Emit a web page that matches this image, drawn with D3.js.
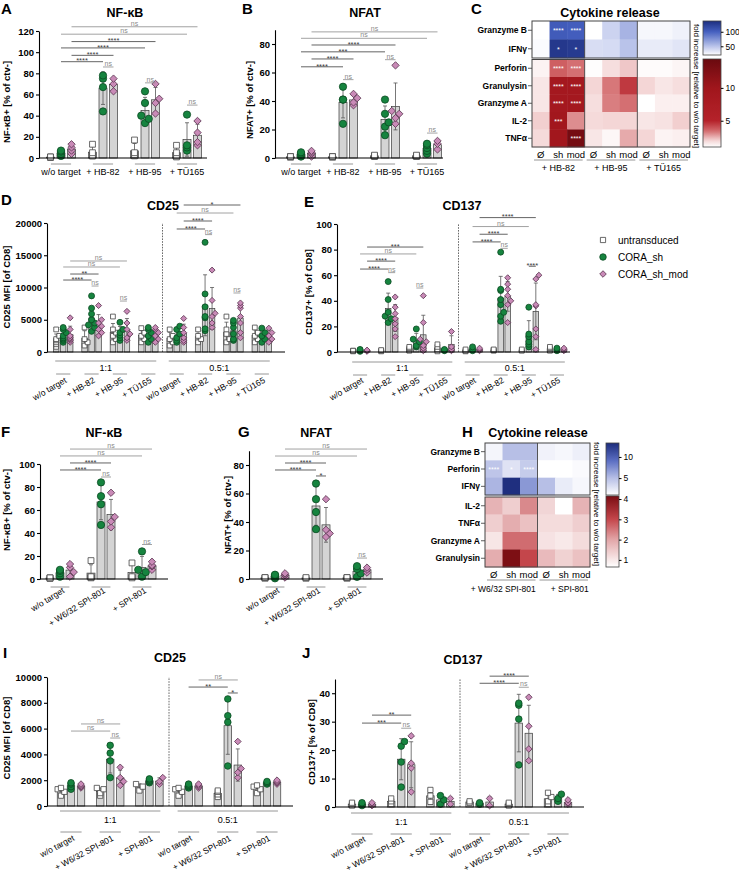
<!DOCTYPE html>
<html>
<head>
<meta charset="utf-8">
<script src="https://cdn.jsdelivr.net/npm/d3@7/dist/d3.min.js"></script>
<style>
  body { margin: 0; background: #fff; }
  svg { font-family: "Liberation Sans", Arial, Helvetica, sans-serif; }
</style>
</head>
<body>
<script>
// ---------- data ----------
var seriesNames = ["untransduced", "CORA_sh", "CORA_sh_mod"];
var ratios = ["1:1", "0.5:1"];

// A  NF-kB
var targetsA = ["w/o target", "+ HB-82", "+ HB-95", "+ TÜ165"];
var nfkbUnt = [[0.5, 1, 1], [2, 2, 5, 13], [2, 3, 5, 17], [1, 2, 5, 12]];
var nfkbSh = [[2, 4, 6, 7], [44, 67, 75, 78], [33, 37, 40, 52, 63], [7, 10, 12, 41]];
var nfkbMod = [[4, 7, 10, 13], [63, 70, 75], [42, 52, 56, 70], [12, 15, 24, 35]];

// B  NFAT
var nfatUnt = [[0.5, 1, 1], [0.5, 1, 1], [1, 1.5, 2], [1, 1.5, 2]];
var nfatSh = [[1, 2, 3, 4], [24, 41, 41, 50], [16, 22, 25, 31, 41], [3, 5, 7, 9, 10]];
var nfatMod = [[1, 3, 4, 5], [37, 39, 42, 45], [24, 28, 31, 33, 65], [6, 10, 12]];

// C  cytokine heatmap
var colsC = ["Ø", "sh", "mod", "Ø", "sh", "mod", "Ø", "sh", "mod"];
var colGroupsC = ["+ HB-82", "+ HB-95", "+ TÜ165"];
var cytoTopC = ["Granzyme B", "IFNγ"];
var cytoBotC = ["Perforin", "Granulysin", "Granzyme A", "IL-2", "TNFα"];
var foldTopC = [[1, 104, 102, 1, 42, 58, 24, 24, 27],
                [22, 130, 128, 37, 38, 50, 30, 30, 33]];
var foldBotC = [[1.3, 3.7, 3.4, 1.05, 1.8, 2.2, 1.1, 1.1, 1.25],
                [1.6, 9, 9, 2.0, 3.3, 4.5, 2.0, 1.6, 1.8],
                [1.6, 9, 9, 1.8, 3.2, 3.4, 1.0, 1.4, 1.4],
                [2.1, 9.5, 3.0, 1.9, 2.0, 2.0, 1.6, 1.7, 2.1],
                [1.9, 9.5, 13.5, 1.6, 1.2, 2.6, 2.0, 1.3, 1.4]];
var starsTopC = [["", "****", "****", "", "", "", "", "", ""],
                 ["", "*", "*", "", "", "", "", "", ""]];
var starsBotC = [["", "****", "****", "", "", "", "", "", ""],
                 ["", "****", "****", "", "", "", "", "", ""],
                 ["", "****", "****", "", "", "", "", "", ""],
                 ["", "***", "", "", "", "", "", "", ""],
                 ["", "", "****", "", "", "", "", "", ""]];

// D  CD25 (HB targets)
var targetsD = ["w/o target", "+ HB-82", "+ HB-95", "+ TÜ165", "w/o target", "+ HB-82", "+ HB-95", "+ TÜ165"];
var cd25Unt = [[800, 1200, 1500, 1800, 2000, 2500, 3500], [1000, 1500, 2000, 3800], [1500, 2000, 2500, 3000, 3500, 5500],
               [1500, 2000, 2500, 3000, 3700], [1000, 1500, 2000, 2500, 3500], [1500, 2000, 2500, 3500],
               [1500, 2000, 2800, 3500, 5500], [1500, 2000, 2500, 3000, 3800]];
var cd25Sh = [[1500, 1800, 2000, 2200, 2500, 3000, 3500, 3800], [3200, 3800, 4200, 4500, 5000, 5900, 6800, 8700],
              [1800, 2200, 2600, 3000, 3500, 4600], [1500, 2000, 2500, 3000, 3500, 3800],
              [1500, 1800, 2200, 2800, 3500, 4000], [3300, 3600, 5300, 5500, 7000, 9000, 17000],
              [1800, 2000, 2800, 3800, 4500, 4900], [1500, 2000, 2500, 3000, 3700]];
var cd25Mod = [[1500, 1800, 2000, 2200, 2500, 3500, 5300], [2500, 3000, 3500, 4000, 4500, 5000, 7200],
               [1800, 2200, 2800, 3500, 4500, 6300], [1500, 2000, 2500, 3000, 3500, 3800],
               [1500, 1800, 2200, 3000, 3800, 5200], [3800, 4500, 5500, 6000, 8000, 12700],
               [2200, 3000, 4500, 5500, 6800, 7200, 7600], [1500, 2000, 2500, 3000, 3700]];

// E  CD137 (HB targets)
var cd137Unt = [[0.5, 1, 1], [0.5, 1, 1.5], [1, 2, 3, 4], [0.5, 2, 4, 6], [0.5, 1, 2], [1, 1.5, 2], [1, 2], [1, 2, 3, 4]];
var cd137Sh = [[0.5, 1, 1.5, 2], [23, 26, 28, 31, 41, 55], [4, 5, 8, 10, 18], [1, 1.5, 2], [1, 2, 4],
               [24, 28, 31, 37, 41, 48, 49, 78], [4, 6, 8, 12, 14, 35], [1, 2, 3]];
var cd137Mod = [[0.5, 1, 1.5], [12, 18, 22, 26, 30, 35, 43], [1, 3, 5, 8, 10, 23, 44], [1, 2, 4, 16], [1, 2, 3],
                [23, 37, 40, 44, 49, 53, 58], [2, 12, 18, 36, 37, 57, 60], [1, 2, 3]];

// F  NF-kB (SPI-801)
var targetsF = ["w/o target", "+ W6/32 SPI-801", "+ SPI-801"];
var nfkb2Unt = [[0.5, 1, 1], [1, 1.5, 2, 16], [1, 2, 14]];
var nfkb2Sh = [[2, 5, 7, 8], [47, 65, 72, 84], [2, 6, 8, 24]];
var nfkb2Mod = [[2, 6, 10, 13], [45, 50, 54, 75], [8, 11, 12, 15]];

// G  NFAT (SPI-801)
var nfat2Unt = [[0.5, 1, 1], [0.5, 1], [0.5, 1, 1]];
var nfat2Sh = [[0.5, 1.5, 2.5, 3], [35, 47, 56, 67], [1.5, 4, 7, 9]];
var nfat2Mod = [[1, 2.5, 3, 4], [29.5, 32, 34.5, 56], [4.5, 6.5, 8]];

// H  cytokine heatmap (SPI-801)
var colsH = ["Ø", "sh", "mod", "Ø", "sh", "mod"];
var colGroupsH = ["+ W6/32 SPI-801", "+ SPI-801"];
var cytoTopH = ["Granzyme B", "Perforin", "IFNγ"];
var cytoBotH = ["IL-2", "TNFα", "Granzyme A", "Granulysin"];
var foldTopH = [[1.6, 5, 5, 1.8, 1.5, 2.0],
                [4.6, 2.8, 4.2, 1.0, 1.0, 1.3],
                [5.5, 13.1, 7, 5, 2.2, 1.5]];
var foldBotH = [[1.8, 1.4, 2.3, 1.3, 0.65, 1.8],
                [1.4, 1.9, 1.6, 1.2, 1.2, 1.4],
                [1.05, 2.6, 2.6, 1.1, 1.0, 1.2],
                [1.9, 4.1, 3.0, 1.7, 1.35, 1.6]];
var starsTopH = [["", "", "", "", "", ""], ["****", "*", "****", "", "", ""], ["", "", "", "", "", ""]];
var starsBotH = [["", "", "", "", "", ""], ["", "", "", "", "", ""], ["", "", "", "", "", ""], ["", "", "", "", "", ""]];

// I  CD25 (SPI-801)
var targetsI = ["w/o target", "+ W6/32 SPI-801", "+ SPI-801", "w/o target", "+ W6/32 SPI-801", "+ SPI-801"];
var cd25bUnt = [[800, 1100, 1300, 1400], [800, 1000, 1300, 1400], [1200, 1500, 1700], [800, 1100, 1300, 1400],
                [700, 900, 1100, 1200], [1000, 1300, 1500, 1600]];
var cd25bSh = [[1300, 1500, 1700, 1800], [2200, 3500, 4100, 4700], [1800, 1900, 2000, 2100], [1400, 1500, 1600, 1700],
               [3100, 6500, 7000, 8300], [1700, 1800, 1900]];
var cd25bMod = [[1400, 1500, 1600, 1700], [1600, 1900, 2200, 3000], [1700, 1900, 2200], [1400, 1500, 1600, 1700],
                [2200, 2600, 2900, 5000], [1700, 1800, 1900, 2000]];

// J  CD137 (SPI-801)
var cd137bUnt = [[0.5, 1, 1.5], [1, 2, 3], [1.8, 4, 6], [1.5, 2], [0.5, 1, 1.5], [1, 2, 3.5, 5]];
var cd137bSh = [[0.5, 1, 1.5], [7, 15.8, 21.4, 23], [1, 2.5, 4], [1, 1.5], [14.8, 30.9, 35.8, 36.5], [2, 3, 4.5]];
var cd137bMod = [[0.5, 1, 1.5], [5.3, 13.7, 15.4, 25], [1, 3], [0.5, 3], [16.3, 20.4, 28.4, 38.6], [1, 1.5, 2.5]];

// ---------- drawing ----------
var FONT = '"Liberation Sans", Arial, Helvetica, sans-serif';
var green = "#16843f", pink = "#c98ab7";
var svg = d3.select("body").append("svg").attr("width", 739).attr("height", 876);
var defs = svg.append("defs");
var gradCount = 0;

var shapes = [d3.symbolSquare, d3.symbolCircle, d3.symbolSquare];
var symSize = [34, 42, 27];
var symFill = ["#fff", green, pink];
var symStroke = ["#444", "#0b4a22", "#5c3853"];
var symRot = [0, 0, 45];

function letter(t, x, y) {
  svg.append("text").attr("x", x).attr("y", y).attr("font-size", 15)
    .attr("font-weight", "bold").text(t);
}

function title(t, x, y) {
  svg.append("text").attr("x", x).attr("y", y).attr("text-anchor", "middle")
    .attr("font-size", 12.5).attr("font-weight", "bold").text(t);
}

function ylabel(t, x, y) {
  svg.append("text").attr("transform", "translate(" + x + "," + y + ") rotate(-90)")
    .attr("text-anchor", "middle").attr("dy", "0.35em")
    .attr("font-size", 9.5).attr("font-weight", "bold").text(t);
}

// spread overlapping points sideways a little, like a scatter column
function spread(vals, y, r) {
  var placed = [];
  vals.slice().sort(d3.ascending).forEach(function(v) {
    var py = y(v), chosen = 0;
    var cands = [0, r * 1.1, -r * 1.1];
    for (var i = 0; i < cands.length; i++) {
      var dx = cands[i];
      var ok = placed.every(function(q) { return Math.hypot(q.dx - dx, q.py - py) >= r * 1.5; });
      if (ok) { chosen = dx; break; }
    }
    placed.push({ v: v, py: py, dx: chosen });
  });
  return placed;
}

function barPanel(p, unt, sh, mod) {
  var series = [unt, sh, mod];
  var g = svg.append("g");
  var y = d3.scaleLinear().domain(p.domain).range([p.y0, p.yTop]);
  var x = d3.scaleBand().domain(d3.range(p.labels.length)).range(p.xRange);
  var bw = x.bandwidth();
  var sub = d3.scalePoint().domain([0, 1, 2]).range([-p.off, p.off]);
  var cx = function(gi, si) { return x(gi) + bw / 2 + sub(si); };
  var s = p.ms;

  if (p.divideAt) {
    g.append("line").attr("x1", x(p.divideAt)).attr("x2", x(p.divideAt))
      .attr("y1", y(0)).attr("y2", p.yTop)
      .attr("stroke", "#444").attr("stroke-width", 0.8).attr("stroke-dasharray", "1.6,1.2");
  }

  // bars and SD whiskers
  series.forEach(function(ser, si) {
    ser.forEach(function(vals, gi) {
      var m = d3.mean(vals), sd = d3.deviation(vals) || 0;
      var xc = cx(gi, si);
      g.append("rect").attr("x", xc - p.barW / 2).attr("y", y(m))
        .attr("width", p.barW).attr("height", y(0) - y(m))
        .attr("fill", "#d4d4d4").attr("stroke", "#3a3a3a").attr("stroke-width", 0.7);
      if (sd > 0) {
        var lo = Math.max(0, m - sd), hi = m + sd;
        g.append("line").attr("x1", xc).attr("x2", xc).attr("y1", y(lo)).attr("y2", y(hi))
          .attr("stroke", "#555").attr("stroke-width", 0.8);
        [lo, hi].forEach(function(v) {
          g.append("line").attr("x1", xc - 2).attr("x2", xc + 2).attr("y1", y(v)).attr("y2", y(v))
            .attr("stroke", "#555").attr("stroke-width", 0.8);
        });
      }
    });
  });

  // points
  series.forEach(function(ser, si) {
    ser.forEach(function(vals, gi) {
      var xc = cx(gi, si);
      spread(vals, y, 3.4 * s).forEach(function(q) {
        g.append("path")
          .attr("d", d3.symbol().type(shapes[si]).size(symSize[si] * s * s)())
          .attr("transform", "translate(" + (xc + q.dx) + "," + q.py + ") rotate(" + symRot[si] + ")")
          .attr("fill", symFill[si]).attr("stroke", symStroke[si]).attr("stroke-width", 0.8);
      });
    });
  });

  // axes
  var ax = g.append("g").attr("transform", "translate(" + p.axisX + ",0)")
    .call(d3.axisLeft(y).tickValues(p.ticks).tickSizeInner(3).tickSizeOuter(0)
      .tickPadding(2).tickFormat(d3.format("d")));
  ax.attr("font-family", FONT);
  ax.select(".domain").attr("stroke-width", 1.1);
  ax.selectAll(".tick line").attr("stroke-width", 1.1);
  ax.selectAll("text").attr("font-size", 9.5).attr("font-weight", "bold").attr("fill", "#000");
  g.append("line").attr("x1", p.axisX).attr("x2", p.axisEnd).attr("y1", y(0)).attr("y2", y(0))
    .attr("stroke", "#000").attr("stroke-width", 1.1);

  // group labels
  p.labels.forEach(function(l, gi) {
    var c = x(gi) + bw / 2;
    g.append("line").attr("x1", c - bw * p.ul).attr("x2", c + bw * p.ul)
      .attr("y1", p.y0 + p.ulDy).attr("y2", p.y0 + p.ulDy)
      .attr("stroke", "#8a8a8a").attr("stroke-width", 0.9);
    if (p.rot === 0) {
      g.append("text").attr("x", c).attr("y", p.y0 + p.labDy).attr("text-anchor", "middle")
        .attr("font-size", 9).text(l);
    } else {
      g.append("text").attr("text-anchor", "end").attr("font-size", 8.5)
        .attr("transform", "translate(" + (c + p.labDx) + "," + (p.y0 + p.labDy) + ") rotate(" + p.rot + ")")
        .text(l);
    }
  });

  // ratio sections
  if (p.sections) {
    p.sections.forEach(function(name, k) {
      var a = x(k * p.per) + bw * 0.22, b = x((k + 1) * p.per - 1) + bw * 0.78;
      g.append("line").attr("x1", a).attr("x2", b).attr("y1", p.y0 + p.secDy).attr("y2", p.y0 + p.secDy)
        .attr("stroke", "#8a8a8a").attr("stroke-width", 0.9);
      g.append("text").attr("x", (a + b) / 2).attr("y", p.y0 + p.secLabDy).attr("text-anchor", "middle")
        .attr("font-size", 9).text(name);
    });
  }

  // significance brackets
  p.sig.forEach(function(d) {
    var x1 = cx(d[0], d[1]), x2 = cx(d[2], d[3]), yy = y(d[5]);
    var ns = d[4] === "ns";
    var col = ns ? "#8a8a8a" : "#3c3c3c";
    g.append("line").attr("x1", x1).attr("x2", x2).attr("y1", yy).attr("y2", yy)
      .attr("stroke", col).attr("stroke-width", 0.8);
    g.append("text").attr("x", (x1 + x2) / 2).attr("y", ns ? yy - 1 : yy + 1.8)
      .attr("text-anchor", "middle").attr("font-size", ns ? 7 : 7.5).attr("fill", col).text(d[4]);
  });

  title(p.title, p.titleX, p.titleY);
  ylabel(p.ylab, p.ylabX, p.ylabY);
}

function colorbar(g, scale, dom, xr, yr, ticks) {
  var id = "grad" + (gradCount++);
  var lo = dom[0], hi = dom[dom.length - 1];
  var grad = defs.append("linearGradient").attr("id", id)
    .attr("x1", 0).attr("y1", 1).attr("x2", 0).attr("y2", 0);
  d3.range(0, 31).forEach(function(i) {
    grad.append("stop").attr("offset", i / 30).attr("stop-color", scale(lo + (hi - lo) * i / 30));
  });
  g.append("rect").attr("x", xr[0]).attr("y", yr[0]).attr("width", xr[1] - xr[0])
    .attr("height", yr[1] - yr[0]).attr("fill", "url(#" + id + ")")
    .attr("stroke", "#444").attr("stroke-width", 0.8);
  var ys = d3.scaleLinear().domain([lo, hi]).range([yr[1], yr[0]]);
  var ax = g.append("g").attr("transform", "translate(" + xr[1] + ",0)")
    .call(d3.axisRight(ys).tickValues(ticks).tickSizeInner(2.5).tickSizeOuter(0)
      .tickPadding(2).tickFormat(d3.format("d")));
  ax.attr("font-family", FONT);
  ax.select(".domain").remove();
  ax.selectAll("text").attr("font-size", 8.5).attr("fill", "#000");
}

function heatPanel(p, cols, groups, topRows, botRows, topVals, botVals, topStars, botStars) {
  var g = svg.append("g");
  var x = d3.scaleBand().domain(d3.range(cols.length)).range([p.x0, p.x1]);
  var bw = x.bandwidth();
  var blue = d3.scaleLinear().domain(p.blueDom).range(p.blueCol).clamp(true);
  var red = d3.scaleLinear().domain(p.redDom).range(p.redCol).clamp(true);
  var blocks = [
    { rows: topRows, vals: topVals, stars: topStars, ext: p.topY, col: blue },
    { rows: botRows, vals: botVals, stars: botStars, ext: p.botY, col: red }
  ];
  blocks.forEach(function(b) {
    var yb = d3.scaleBand().domain(b.rows).range(b.ext);
    b.rows.forEach(function(r, ri) {
      b.vals[ri].forEach(function(v, ci) {
        g.append("rect").attr("x", x(ci)).attr("y", yb(r))
          .attr("width", bw + 0.4).attr("height", yb.bandwidth() + 0.4).attr("fill", b.col(v));
        var st = b.stars[ri][ci];
        if (st) {
          g.append("text").attr("x", x(ci) + bw / 2).attr("y", yb(r) + yb.bandwidth() / 2 + 3.2)
            .attr("text-anchor", "middle").attr("font-size", 7).attr("fill", "#fff").text(st);
        }
      });
      var yc = yb(r) + yb.bandwidth() / 2;
      g.append("line").attr("x1", p.x0 - 4).attr("x2", p.x0).attr("y1", yc).attr("y2", yc)
        .attr("stroke", "#333").attr("stroke-width", 0.8);
      g.append("text").attr("x", p.x0 - 5).attr("y", yc).attr("dy", "0.35em").attr("text-anchor", "end")
        .attr("font-size", 8.5).attr("font-weight", "bold").text(r);
    });
    for (var k = 3; k < cols.length; k += 3) {
      g.append("line").attr("x1", x(k)).attr("x2", x(k)).attr("y1", b.ext[0]).attr("y2", b.ext[1])
        .attr("stroke", "#444").attr("stroke-width", 0.9);
    }
    g.append("rect").attr("x", p.x0).attr("y", b.ext[0]).attr("width", p.x1 - p.x0)
      .attr("height", b.ext[1] - b.ext[0]).attr("fill", "none")
      .attr("stroke", "#444").attr("stroke-width", 1);
  });

  cols.forEach(function(c, ci) {
    g.append("text").attr("x", x(ci) + bw / 2).attr("y", p.colY).attr("text-anchor", "middle")
      .attr("font-size", 9.5).text(c);
  });
  groups.forEach(function(gr, gi) {
    var a = x(gi * 3) + 2, b = x(gi * 3 + 2) + bw - 2;
    g.append("line").attr("x1", a).attr("x2", b).attr("y1", p.ulY).attr("y2", p.ulY)
      .attr("stroke", "#8a8a8a").attr("stroke-width", 0.9);
    g.append("text").attr("x", (a + b) / 2 + p.grShift[gi]).attr("y", p.grY).attr("text-anchor", "middle")
      .attr("font-size", p.grSize).text(gr);
  });

  colorbar(g, blue, p.blueDom, p.cbX, p.blueBar, p.blueTicks);
  colorbar(g, red, p.redDom, p.cbX, p.redBar, p.redTicks);

  g.append("text").attr("transform", "translate(" + p.labX + "," + p.labY + ") rotate(90)")
    .attr("text-anchor", "middle").attr("dy", "0.35em").attr("font-size", 8)
    .text("fold increase [relative to w/o target]");
  title("Cytokine release", p.titleX, p.titleY);
}

// ---------- panels ----------
barPanel({
  labels: targetsA, domain: [0, 120], ticks: [0, 20, 40, 60, 80, 100, 120],
  y0: 158, yTop: 31, xRange: [40, 208], axisX: 39, axisEnd: 207,
  off: 10.5, barW: 8, ms: 1, rot: 0, labDy: 17, ul: 0.24, ulDy: 6,
  title: "NF-κB", titleX: 125, titleY: 17, ylab: "NF-κB+ [% of ctv-]", ylabX: 7, ylabY: 102,
  sig: [[0, 1, 1, 1, "****", 91], [0, 2, 1, 2, "****", 97], [0, 1, 2, 1, "****", 104], [0, 2, 2, 2, "****", 110],
        [0, 1, 3, 1, "ns", 117], [0, 2, 3, 2, "ns", 124], [1, 1, 1, 2, "ns", 86], [2, 1, 2, 2, "ns", 71], [3, 1, 3, 2, "ns", 50]]
}, nfkbUnt, nfkbSh, nfkbMod);

barPanel({
  labels: targetsA, domain: [0, 90], ticks: [0, 20, 40, 60, 80],
  y0: 158, yTop: 29.75, xRange: [280, 448], axisX: 275, axisEnd: 443,
  off: 10.5, barW: 8, ms: 1, rot: 0, labDy: 17, ul: 0.24, ulDy: 6,
  title: "NFAT", titleX: 365, titleY: 17, ylab: "NFAT+ [% of ctv-]", ylabX: 250, ylabY: 100,
  sig: [[0, 1, 1, 1, "****", 64], [0, 2, 1, 2, "****", 69.5], [0, 1, 2, 1, "***", 74.5], [0, 2, 2, 2, "****", 79.3],
        [0, 1, 3, 1, "ns", 84], [0, 2, 3, 2, "ns", 88.5], [1, 1, 1, 2, "ns", 55], [2, 1, 2, 2, "ns", 69], [3, 1, 3, 2, "ns", 17.5]]
}, nfatUnt, nfatSh, nfatMod);

heatPanel({
  x0: 532, x1: 690, topY: [21, 58], botY: [59.5, 147], colY: 157.5, ulY: 160, grY: 171,
  grShift: [0, 0, 0], grSize: 9,
  titleX: 610, titleY: 17, cbX: [703, 721], blueBar: [21, 55], redBar: [59, 147],
  blueDom: [20, 45, 100, 137], blueCol: ["#ffffff", "#c5cdee", "#4560c0", "#1d2f80"], blueTicks: [50, 100],
  redDom: [1, 2, 3.5, 5, 10, 14.4], redCol: ["#ffffff", "#f4d6d6", "#d2686b", "#b5222a", "#a0161c", "#6a0a0f"],
  redTicks: [5, 10], labX: 697, labY: 86
}, colsC, colGroupsC, cytoTopC, cytoBotC, foldTopC, foldBotC, starsTopC, starsBotC);

barPanel({
  labels: targetsD, domain: [0, 20000], ticks: [0, 5000, 10000, 15000, 20000],
  y0: 352, yTop: 223, xRange: [49, 276], axisX: 47, axisEnd: 285,
  off: 7, barW: 5.5, ms: 0.82, rot: -30, labDx: 4, labDy: 30, ul: 0.25, ulDy: 22,
  sections: ratios, per: 4, secDy: 9, secLabDy: 19, divideAt: 4,
  title: "CD25", titleX: 163, titleY: 210, ylab: "CD25 MFI [of CD8]", ylabX: 7, ylabY: 287,
  sig: [[0, 1, 1, 1, "****", 11160], [0, 2, 1, 2, "**", 12090], [0, 1, 2, 1, "ns", 13180], [0, 2, 2, 2, "ns", 14110],
        [1, 1, 1, 2, "ns", 10230], [2, 1, 2, 2, "ns", 7900],
        [4, 1, 5, 1, "****", 19070], [4, 2, 5, 2, "****", 20310], [4, 1, 6, 1, "ns", 21550], [4, 2, 6, 2, "*", 22790],
        [5, 1, 5, 2, "ns", 18200], [6, 1, 6, 2, "ns", 9150]]
}, cd25Unt, cd25Sh, cd25Mod);

barPanel({
  labels: targetsD, domain: [0, 100], ticks: [0, 20, 40, 60, 80, 100],
  y0: 352, yTop: 224, xRange: [346, 571], axisX: 337, axisEnd: 570,
  off: 7, barW: 5.5, ms: 0.82, rot: -30, labDx: 4, labDy: 30, ul: 0.25, ulDy: 23,
  sections: ratios, per: 4, secDy: 10, secLabDy: 19, divideAt: 4,
  title: "CD137", titleX: 462, titleY: 210, ylab: "CD137+ [% of CD8]", ylabX: 309, ylabY: 292,
  sig: [[0, 1, 1, 1, "****", 64.8], [0, 2, 1, 2, "****", 71], [0, 1, 2, 1, "ns", 76.6], [0, 2, 2, 2, "***", 82],
        [1, 1, 1, 2, "ns", 62], [2, 1, 2, 2, "ns", 50],
        [4, 1, 5, 1, "****", 86], [4, 2, 5, 2, "****", 92], [4, 1, 6, 1, "ns", 98], [4, 2, 6, 2, "****", 105],
        [5, 1, 5, 2, "ns", 81], [6, 1, 6, 2, "****", 67]]
}, cd137Unt, cd137Sh, cd137Mod);

// legend
var legend = svg.append("g");
seriesNames.forEach(function(n, si) {
  var ly = 240 + si * 17;
  legend.append("path").attr("d", d3.symbol().type(shapes[si]).size(symSize[si] * 0.8)())
    .attr("transform", "translate(603," + ly + ") rotate(" + symRot[si] + ")")
    .attr("fill", symFill[si]).attr("stroke", symStroke[si]).attr("stroke-width", 0.8);
  legend.append("text").attr("x", 618).attr("y", ly).attr("dy", "0.35em").attr("font-size", 10).text(n);
});

barPanel({
  labels: targetsF, domain: [0, 100], ticks: [0, 20, 40, 60, 80, 100],
  y0: 579, yTop: 464, xRange: [39.5, 162.5], axisX: 40, axisEnd: 168,
  off: 10, barW: 8, ms: 1, rot: -32, labDx: 5, labDy: 13, ul: 0.23, ulDy: 8,
  title: "NF-κB", titleX: 104, titleY: 437, ylab: "NF-κB+ [% of ctv-]", ylabX: 7, ylabY: 510,
  sig: [[0, 1, 1, 1, "****", 94.8], [0, 2, 1, 2, "****", 100.9], [0, 1, 2, 1, "ns", 107], [0, 2, 2, 2, "ns", 113],
        [1, 1, 1, 2, "ns", 88.7], [2, 1, 2, 2, "ns", 30]]
}, nfkb2Unt, nfkb2Sh, nfkb2Mod);

barPanel({
  labels: targetsF, domain: [0, 90], ticks: [0, 20, 40, 60, 80],
  y0: 579, yTop: 450.75, xRange: [254.5, 377.5], axisX: 249, axisEnd: 383,
  off: 10, barW: 8, ms: 1, rot: -32, labDx: 5, labDy: 13, ul: 0.23, ulDy: 8,
  title: "NFAT", titleX: 316, titleY: 437, ylab: "NFAT+ [% of ctv-]", ylabX: 228, ylabY: 515,
  sig: [[0, 1, 1, 1, "****", 76.5], [0, 2, 1, 2, "****", 81.4], [0, 1, 2, 1, "ns", 86.3], [0, 2, 2, 2, "ns", 91.2],
        [1, 1, 1, 2, "*", 72.3], [2, 1, 2, 2, "ns", 14.7]]
}, nfat2Unt, nfat2Sh, nfat2Mod);

heatPanel({
  x0: 485, x1: 590, topY: [443, 495], botY: [497, 567], colY: 577.5, ulY: 580, grY: 592,
  grShift: [-8, 6], grSize: 8.5,
  titleX: 538, titleY: 437, cbX: [606, 619], blueBar: [443, 495], redBar: [496, 567],
  blueDom: [1, 5, 9, 13.3], blueCol: ["#ffffff", "#b7bfe6", "#5d70c4", "#1c2c7c"], blueTicks: [5, 10],
  redDom: [0.65, 1, 2, 3, 4.15], redCol: ["#ffffff", "#f8e9e9", "#e2a6a8", "#c4464b", "#7a0c12"],
  redTicks: [1, 2, 3, 4], labX: 597, labY: 504
}, colsH, colGroupsH, cytoTopH, cytoBotH, foldTopH, foldBotH, starsTopH, starsBotH);

barPanel({
  labels: targetsI, domain: [0, 10000], ticks: [0, 2000, 4000, 6000, 8000, 10000],
  y0: 806, yTop: 677, xRange: [51.4, 286.6], axisX: 47, axisEnd: 293,
  off: 10, barW: 7.5, ms: 0.9, rot: -28, labDx: 4, labDy: 34, ul: 0.27, ulDy: 26,
  sections: ratios, per: 3, secDy: 5, secLabDy: 17, divideAt: 3,
  title: "CD25", titleX: 170, titleY: 662, ylab: "CD25 MFI [of CD8]", ylabX: 7, ylabY: 738,
  sig: [[0, 1, 1, 1, "ns", 5810], [0, 2, 1, 2, "ns", 6360], [1, 1, 1, 2, "ns", 5270],
        [3, 1, 4, 1, "**", 9220], [3, 2, 4, 2, "ns", 9770], [4, 1, 4, 2, "*", 8760]]
}, cd25bUnt, cd25bSh, cd25bMod);

barPanel({
  labels: targetsI, domain: [0, 45], ticks: [0, 10, 20, 30, 40],
  y0: 807, yTop: 679, xRange: [342.4, 577.6], axisX: 335, axisEnd: 584,
  off: 10, barW: 7.5, ms: 0.9, rot: -28, labDx: 4, labDy: 34, ul: 0.27, ulDy: 27,
  sections: ratios, per: 3, secDy: 6, secLabDy: 18, divideAt: 3,
  title: "CD137", titleX: 463, titleY: 664, ylab: "CD137+ [% of CD8]", ylabX: 312, ylabY: 742,
  sig: [[0, 1, 1, 1, "***", 29.5], [0, 2, 1, 2, "**", 32.3], [1, 1, 1, 2, "ns", 27.7],
        [3, 1, 4, 1, "****", 43.5], [3, 2, 4, 2, "****", 46], [4, 1, 4, 2, "ns", 42.1]]
}, cd137bUnt, cd137bSh, cd137bMod);

letter("A", 1, 14);
letter("B", 242, 14);
letter("C", 471, 14);
letter("D", 1, 205);
letter("E", 304, 207);
letter("F", 1, 437);
letter("G", 238, 437);
letter("H", 462, 437);
letter("I", 3, 658);
letter("J", 302, 658);
</script>
</body>
</html>
